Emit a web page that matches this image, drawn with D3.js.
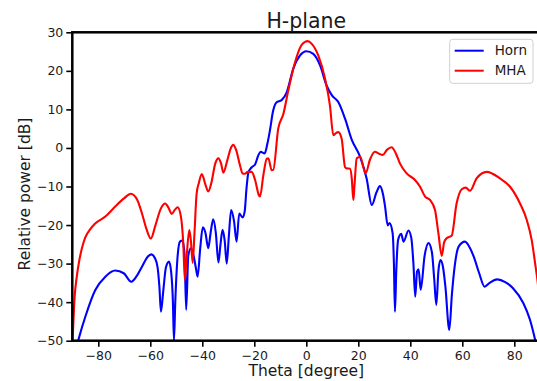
<!DOCTYPE html>
<html>
<head>
<meta charset="utf-8">
<script src="https://cdn.jsdelivr.net/npm/d3@7"></script>
<style>
  html, body { margin: 0; padding: 0; background: #fff; }
  svg { display: block; font-family: "DejaVu Sans", sans-serif; }
</style>
</head>
<body>
<div id="chart"></div>
<script>
// --- data ---
const xTicks = [-80, -60, -40, -20, 0, 20, 40, 60, 80];
const yTicks = [30, 20, 10, 0, -10, -20, -30, -40, -50];

const hornTheta = [-90, -87.5, -85, -81.2, -77.3, -73.5, -70.2, -67.3, -65, -63.2, -61, -59.6, -58.2, -57.2, -56.5, -55.9,
  -55, -54, -52.8, -52, -51.3, -50.9, -50.4, -49.6, -48.6, -47.6, -46.8, -46.2, -45.4, -44.4, -43.5, -42.5, -41.8,
  -40.8, -39.8, -38.8, -37.7, -36.8, -35.8, -34.8, -33.8, -33, -32.2, -31.4, -30.6, -29.8, -28.9, -27.8, -26.8,
  -25.8, -24.5, -23.7, -23, -22.3, -21, -19.7, -18.5, -17.6, -16, -15, -14, -12.8, -11.5, -9.5, -7.5, -5, -2.4, 0,
  2.7, 5.3, 7.8, 9.8, 12.3, 14.9, 17.5, 20.7, 23.2, 25.2, 27, 28.3, 29.5, 30.3, 31.3, 32, 33.2, 33.7, 34.1, 34.6,
  35.3, 36.5, 37.4, 39.3, 40.4, 41.2, 41.9, 42.6, 43.2, 44, 45.5, 47, 48.3, 49.2, 50, 50.8, 51.6, 52.6, 53.5, 55,
  56, 57.2, 58.6, 61, 63, 64.4, 66.5, 68.6, 70.5, 73.5, 76.5, 79.5, 83.5, 86, 88.1, 90];
const hornDb = [-56, -49.4, -43.8, -36.9, -33.4, -31.8, -32.5, -34.7, -33, -30.8, -28.2, -27.6, -28.6, -31, -36, -42.5,
  -37, -31, -29.5, -32, -40, -50, -40, -29, -24.3, -24, -28, -42, -28, -26, -27.5, -31, -33.4,
  -26, -20.6, -22, -26, -22, -18.5, -22, -29.7, -25, -21.2, -24, -30, -23, -16.1, -19, -24.3,
  -17, -18, -16.5, -10.5, -6.5, -5, -4.3, -2, -1, -1.4, 1, 4.5, 9.5, 11.8, 12.4, 14.5, 20.6, 24, 25.1,
  24.4, 21.4, 16.2, 13.7, 11.9, 7.6, 2.1, -2.3, -7.9, -14.8, -11.5, -9.9, -12, -15.2, -20.1, -19.5, -22.1, -30, -42.5, -32,
  -23.9, -22.3, -24.3, -21.4, -23.4, -30, -38.6, -32, -31.5, -36.8, -28, -24.7, -27, -34, -40.7, -32, -29.1, -31, -36, -47.2,
  -38, -30, -25.6, -24.3, -26, -28.2, -32.5, -36, -35, -34.1, -34.8, -36.4, -40.3, -44.5, -50, -56];

const mhaTheta = [-90, -89.1, -88.3, -87.5, -86.3, -85, -83, -81.2, -77.3, -73.5, -70, -67.5, -65, -63.2, -61.5, -59.8, -58, -56,
  -54.3, -53, -51.8, -50.5, -49.5, -48.3, -47.3, -46.7, -46, -45, -44.4, -43.7, -43, -42.2, -41.3, -40.2, -38.8,
  -37.7, -36.5, -35, -33.8, -32.8, -31.9, -30.5, -29, -28.1, -27, -25.5, -24.5, -23.6, -22.5, -21, -19.7, -18.2,
  -17.8, -16.5, -15.2, -14.6, -13.3, -12.7, -10.8, -8.8, -6.9, -4.3, -2, -0.5, 0.5, 2.1, 4.6, 7.2, 9.1, 10.4,
  11.3, 12.3, 13.6, 14.9, 15.5, 16.8, 17.5, 18.1, 18.5, 19.4, 20.7, 22.8, 24.5, 26.4, 28, 29.4, 31, 32.8, 34.5,
  36, 38.6, 41.8, 43.7, 45.7, 47.6, 49.5, 50.8, 52.1, 53, 54, 55.9, 57.8, 59.8, 61.3, 63, 65.5, 69.4, 74.5, 78.3,
  82.2, 84.8, 86.7, 88, 89.2, 90];
const mhaDb = [-52, -38.6, -33.5, -29.9, -26, -23.2, -21, -19.6, -17.8, -15.2, -13, -11.9, -13.5, -17, -21, -23.5, -20, -15.8,
  -14.4, -15.5, -17.1, -16, -15.4, -17.5, -25, -34.3, -28, -21.3, -24, -29.8, -22, -12, -9, -6.8, -9.5,
  -11.3, -9, -4, -2.7, -4, -6.4, -3.5, 0, 0.8, -0.5, -4.5, -6.6, -6.7, -6.2, -6.2, -8.3, -12.3,
  -12.6, -7, -2.8, -2.7, -5.8, -5.7, 5, 8.9, 15, 22.3, 26.5, 27.5, 27.7, 27, 24, 18, 11, 3.3,
  3.8, 4.1, 2.4, -5, -5.3, -5.4, -8, -13.5, -10, -2.7, -2.3, -6.6, -3, -1, -1.5, -1.8, -0.5, 0.2, -1.5,
  -4, -6.6, -8.3, -10, -12.6, -13.5, -16.1, -22.1, -28, -24.5, -23.4, -22.8, -14.4, -10.7, -10.3, -11.1, -7.9, -6.2, -7.9, -10,
  -14.4, -18.7, -23.9, -29.9, -36, -42];

const seriesNames = ["Horn", "MHA"];
const seriesColors = ["#0000ff", "#ff0000"];

// --- layout ---
const width = 537, height = 381;
const plot = { left: 72.3, right: 540.3, top: 32.3, bottom: 340.7 };

const x = d3.scaleLinear().domain([-90, 90]).range([plot.left, plot.right]);
const y = d3.scaleLinear().domain([-50, 30]).range([plot.bottom, plot.top]);

const svg = d3.select("#chart").append("svg")
  .attr("width", width).attr("height", height);

svg.append("clipPath").attr("id", "clip")
  .append("rect")
  .attr("x", plot.left).attr("y", plot.top)
  .attr("width", plot.right - plot.left).attr("height", plot.bottom - plot.top);

// lines
const line = d3.line()
  .x(d => x(d[0])).y(d => y(d[1]))
  .curve(d3.curveMonotoneX);

const series = [
  d3.zip(hornTheta, hornDb),
  d3.zip(mhaTheta, mhaDb)
];

svg.append("g").attr("clip-path", "url(#clip)")
  .selectAll("path")
  .data(series)
  .join("path")
  .attr("d", line)
  .attr("fill", "none")
  .attr("stroke", (d, i) => seriesColors[i])
  .attr("stroke-width", 2.1)
  .attr("stroke-linejoin", "round");

// axes
const xAxis = svg.append("g")
  .attr("transform", `translate(0,${plot.bottom})`)
  .call(d3.axisBottom(x).tickValues(xTicks).tickSize(6).tickPadding(4)
    .tickFormat(d => d < 0 ? "\u2212" + Math.abs(d) : d));
const yAxis = svg.append("g")
  .attr("transform", `translate(${plot.left},0)`)
  .call(d3.axisLeft(y).tickValues(yTicks).tickSize(6).tickPadding(3)
    .tickFormat(d => d < 0 ? "\u2212" + Math.abs(d) : d));

[xAxis, yAxis].forEach(a => {
  a.select(".domain").remove();
  a.selectAll(".tick line").attr("stroke", "#000").attr("stroke-width", 1.6);
  a.selectAll(".tick text")
    .attr("fill", "#1a1a1a")
    .style("font-size", "12.5px")
    .style("font-family", "DejaVu Sans");
});

// spines
svg.append("rect")
  .attr("x", plot.left).attr("y", plot.top)
  .attr("width", plot.right - plot.left).attr("height", plot.bottom - plot.top)
  .attr("fill", "none").attr("stroke", "#000").attr("stroke-width", 2.5);

// title and labels
svg.append("text")
  .attr("x", (plot.left + plot.right) / 2).attr("y", 28)
  .attr("text-anchor", "middle")
  .style("font-size", "20.5px")
  .attr("fill", "#1a1a1a")
  .text("H-plane");

svg.append("text")
  .attr("x", (plot.left + plot.right) / 2).attr("y", 376)
  .attr("text-anchor", "middle")
  .style("font-size", "15.5px")
  .attr("fill", "#1a1a1a")
  .text("Theta [degree]");

svg.append("text")
  .attr("transform", "translate(29.5,194) rotate(-90)")
  .attr("text-anchor", "middle")
  .style("font-size", "15.5px")
  .attr("fill", "#1a1a1a")
  .text("Relative power [dB]");

// legend
const legend = svg.append("g");
legend.append("rect")
  .attr("x", 449.7).attr("y", 39.3)
  .attr("width", 83.3).attr("height", 44)
  .attr("rx", 3)
  .attr("fill", "#fff").attr("fill-opacity", 0.8)
  .attr("stroke", "#d0d0d0").attr("stroke-width", 1);

seriesNames.forEach((name, i) => {
  const ly = 50.7 + i * 20;
  legend.append("line")
    .attr("x1", 454.7).attr("x2", 483.7)
    .attr("y1", ly).attr("y2", ly)
    .attr("stroke", seriesColors[i]).attr("stroke-width", 2);
  legend.append("text")
    .attr("x", 494.7).attr("y", ly + 4.6)
    .style("font-size", "13.5px")
    .attr("fill", "#1a1a1a")
    .text(name);
});
</script>
</body>
</html>
